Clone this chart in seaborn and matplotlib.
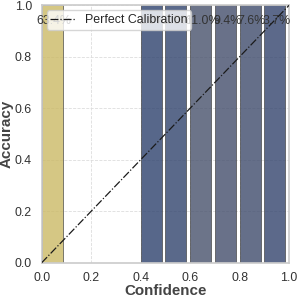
import matplotlib
matplotlib.use("Agg")
import matplotlib.pyplot as plt
import numpy as np
import seaborn as sns

# reliability diagram data (10 confidence bins)
bin_lower = [0.0, 0.1, 0.2, 0.3, 0.4, 0.5, 0.6, 0.7, 0.8, 0.9]
accuracy = [1.0, 0.0, 0.0, 0.0, 1.0, 1.0, 1.0, 1.0, 1.0, 1.0]
pct_samples = [63.4, 0.0, 0.0, 0.0, 2.0, 2.9, 11.0, 9.4, 7.6, 3.7]

sns.set_theme(style="whitegrid")
plt.rcParams["font.family"] = ["Liberation Sans", "DejaVu Sans"]

fig, ax = plt.subplots(figsize=(3.0, 3.0), dpi=99)

norm = plt.Normalize(vmin=-15, vmax=82)
cmap = plt.get_cmap("cividis")

for x, acc, p in zip(bin_lower, accuracy, pct_samples):
    if p <= 0:
        continue
    ax.bar(x, acc, width=0.085, align="edge", color=cmap(norm(p)), alpha=0.8,
           edgecolor="#444444", linewidth=0.6, zorder=2)
    ax.text(x + 0.05, 0.94, f"{p:.1f}%", ha="center", va="center",
            fontsize=9, color="#333333", zorder=3)

ax.plot([0, 1], [0, 1], "k-.", linewidth=0.9, label="Perfect Calibration", zorder=4)

ax.set_xlim(0, 1)
ax.set_ylim(0, 1)
ax.set_xticks(np.arange(0, 1.01, 0.2))
ax.set_yticks(np.arange(0, 1.01, 0.2))
ax.tick_params(labelsize=9, pad=1, colors="#333333")
ax.grid(True, linestyle="--", linewidth=0.6, color="#dddddd", zorder=0)
for s in ax.spines.values():
    s.set_color("#cccccc")
ax.set_xlabel("Confidence", fontsize=11, fontweight="bold", color="#444444", labelpad=0)
ax.set_ylabel("Accuracy", fontsize=11, fontweight="bold", color="#444444", labelpad=1)
ax.legend(loc="upper left", fontsize=9, framealpha=0.8, borderpad=0.3,
          handlelength=2.0, borderaxespad=0.4)

fig.subplots_adjust(left=0.14, right=0.973, bottom=0.115, top=0.982)
fig.savefig("out.png", dpi=99)
